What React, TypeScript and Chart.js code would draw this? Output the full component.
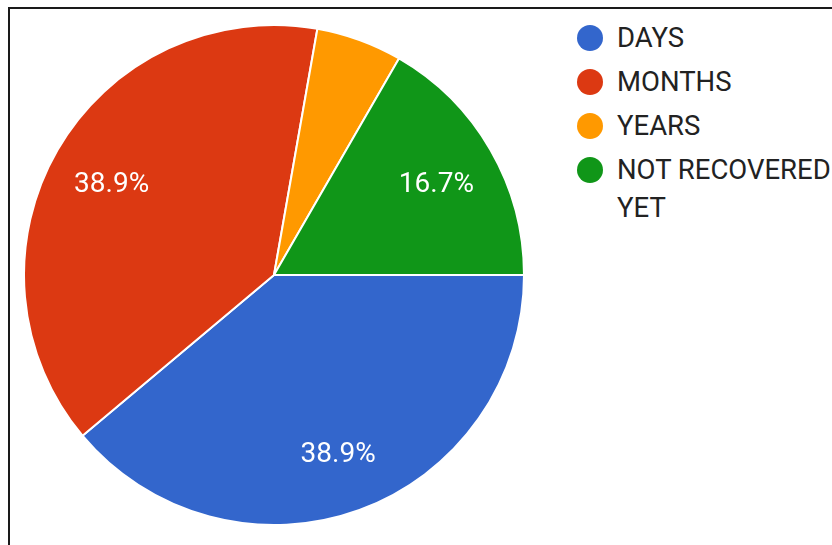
import React, { useEffect, useRef } from "react";
import { Chart, registerables } from "chart.js";

Chart.register(...registerables);

const categories = ["DAYS", "MONTHS", "YEARS", "NOT RECOVERED YET"];
const values = [7, 7, 1, 3];
const colors = ["#3366cc", "#dc3912", "#ff9900", "#109618"];

const FONT = "Roboto, 'Noto Sans', Arial, sans-serif";

const sliceLabelPlugin = {
  id: "sliceLabels",
  afterDatasetsDraw(chart: any) {
    const ctx = chart.ctx;
    const meta = chart.getDatasetMeta(0);
    const data = chart.data.datasets[0].data as number[];
    const total = data.reduce((a, b) => a + b, 0);
    ctx.save();
    ctx.fillStyle = "#ffffff";
    ctx.font = `28px ${FONT}`;
    ctx.textAlign = "center";
    ctx.textBaseline = "middle";
    meta.data.forEach((arc: any, i: number) => {
      const frac = data[i] / total;
      if (frac < 0.08) return;
      const p = arc.getProps(["x", "y", "startAngle", "endAngle", "outerRadius"], true);
      const mid = (p.startAngle + p.endAngle) / 2;
      const r = p.outerRadius * 0.75;
      const x = p.x + Math.cos(mid) * r;
      const y = p.y + Math.sin(mid) * r + 4;
      ctx.fillText((frac * 100).toFixed(1) + "%", x, y);
    });
    ctx.restore();
  },
};

export default function App() {
  const ref = useRef<HTMLCanvasElement>(null);
  useEffect(() => {
    if (!ref.current) return;
    const chart = new Chart(ref.current, {
      type: "pie",
      data: {
        labels: categories,
        datasets: [
          {
            data: values,
            backgroundColor: colors,
            borderColor: "#ffffff",
            borderWidth: 2,
          },
        ],
      },
      options: {
        responsive: false,
        animation: false,
        rotation: 90,
        layout: { padding: 0 },
        plugins: {
          legend: { display: false },
          tooltip: { enabled: false },
        },
      },
      plugins: [sliceLabelPlugin],
    });
    return () => chart.destroy();
  }, []);

  return (
    <div
      style={{
        position: "fixed",
        left: 0,
        top: 0,
        width: 832,
        height: 545,
        overflow: "hidden",
        background: "#ffffff",
        fontFamily: FONT,
      }}
    >
      <div
        style={{
          position: "absolute",
          left: 8,
          top: 7,
          width: 900,
          height: 600,
          borderTop: "2px solid #1a1a1a",
          borderLeft: "2px solid #1a1a1a",
        }}
      />
      <canvas
        ref={ref}
        width={502}
        height={502}
        style={{ position: "absolute", left: 23, top: 24, width: 502, height: 502 }}
      />
      {categories.map((c, i) => (
        <div
          key={c}
          style={{
            position: "absolute",
            left: 577,
            top: 38 + i * 44 - 19,
            width: 255,
            display: "flex",
            alignItems: "flex-start",
          }}
        >
          <div
            style={{
              width: 26,
              height: 26,
              borderRadius: "50%",
              background: colors[i],
              marginTop: 6,
              flex: "0 0 auto",
            }}
          />
          <div
            style={{
              marginLeft: 14,
              width: 215,
              fontSize: 27.5,
              lineHeight: "38px",
              color: "#222222",
            }}
          >
            {c}
          </div>
        </div>
      ))}
    </div>
  );
}
